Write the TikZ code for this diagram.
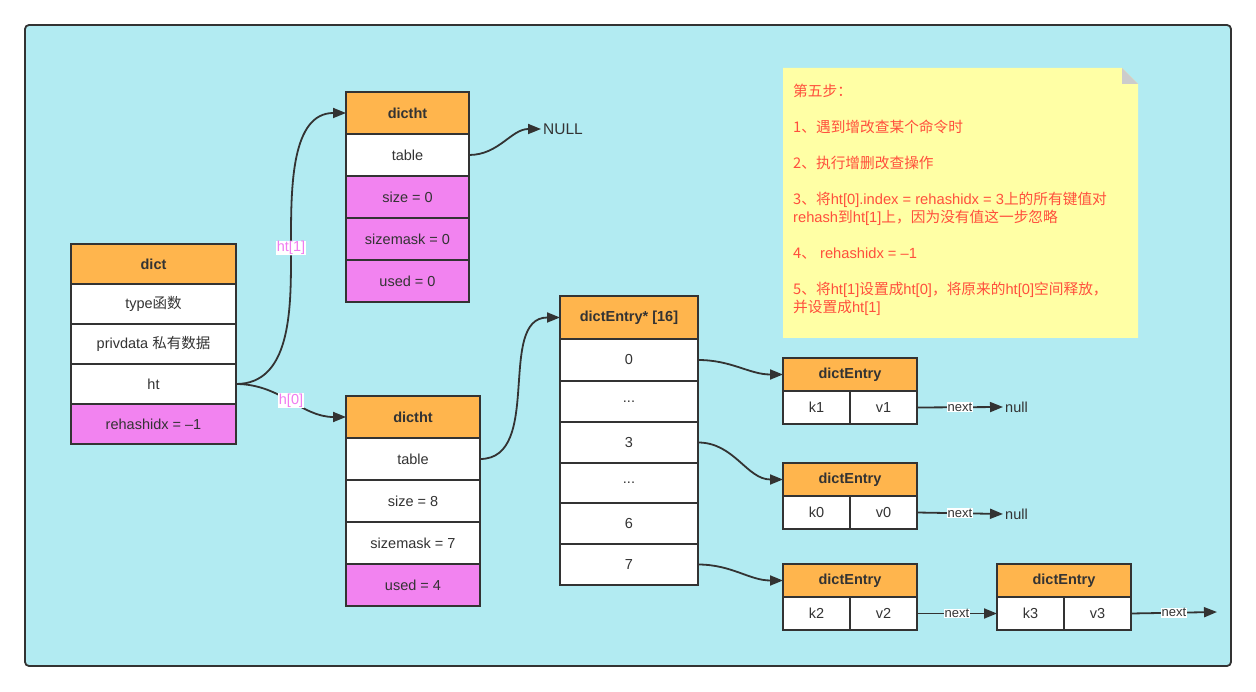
\documentclass[tikz,border=0pt]{standalone}
\usepackage{fontspec}
\setmainfont{Liberation Sans}
\newfontfamily\cjk{Noto Sans CJK SC}
\usetikzlibrary{arrows.meta}
\definecolor{bg}{HTML}{B2EBF2}
\definecolor{lc}{HTML}{333333}
\definecolor{hd}{HTML}{FFB54D}
\definecolor{mg}{HTML}{F283F0}
\definecolor{nt}{HTML}{FFFFA5}
\definecolor{ntx}{HTML}{FF4F3C}
\definecolor{lbc}{HTML}{F07CF0}
\definecolor{fold}{HTML}{CCCCCC}
\newcommand{\fs}{\fontsize{14.5}{16}\selectfont}
\newcommand{\fsm}{\fontsize{13}{15}\selectfont}
\tikzset{
 cell/.style={draw=lc, line width=1.8pt, inner sep=0pt, outer sep=0pt, anchor=north west, font=\fs, text=lc},
 hdr/.style={cell, fill=hd, font=\fs\bfseries},
 wcell/.style={cell, fill=white},
 mcell/.style={cell, fill=mg},
 conn/.style={draw=lc, line width=1.8pt, -{Triangle[length=13pt,width=10pt]}},
 lbl/.style={fill=white, inner sep=0.5pt, font=\fs, text=lbc},
 nxt/.style={fill=white, inner sep=0.5pt, font=\fsm, text=lc},
 plain/.style={inner sep=2pt, font=\fs, text=lc, anchor=west},
}
\begin{document}
\begin{tikzpicture}[x=1pt,y=-1pt]
\useasboundingbox (0,0) rectangle (1256,692);
\fill[white] (0,0) rectangle (1256,692);
\draw[fill=bg, draw=lc, line width=1.8pt, rounded corners=4pt] (25,25) rectangle (1231,666);

% note
\fill[nt] (783,68) -- (1122,68) -- (1138,84) -- (1138,338) -- (783,338) -- cycle;
\fill[fold] (1122,68) -- (1138,84) -- (1122,84) -- cycle;
\node[anchor=north west, inner sep=0pt, align=left, text=ntx, font=\fontsize{14.7}{18}\selectfont] (note) at (793,83.5) {%
{\cjk 第五步：}\\[18pt]
{\cjk 1、遇到增改查某个命令时}\\[18pt]
{\cjk 2、执行增删改查操作}\\[18pt]
{\cjk 3、将}ht[0].index = rehashidx = 3{\cjk 上的所有键值对}\\
rehash{\cjk 到}ht[1]{\cjk 上，因为没有值这一步忽略}\\[18pt]
{\cjk 4、} rehashidx = –1\\[18pt]
{\cjk 5、将}ht[1]{\cjk 设置成}ht[0]{\cjk ，将原来的}ht[0]{\cjk 空间释放，}\\
{\cjk 并设置成}ht[1]};

% dict
\node[hdr, minimum width=165pt, minimum height=40pt] (d0) at (71,244) {dict};
\node[wcell, minimum width=165pt, minimum height=40pt] (d1) at (71,284) {type{\cjk 函数}};
\node[wcell, minimum width=165pt, minimum height=40pt] (d2) at (71,324) {privdata {\cjk 私有数据}};
\node[wcell, minimum width=165pt, minimum height=40pt] (d3) at (71,364) {ht};
\node[mcell, minimum width=165pt, minimum height=40pt] (d4) at (71,404) {rehashidx = –1};

% dictht top (ht[1])
\node[hdr, minimum width=123pt, minimum height=42pt] (a0) at (346,92) {dictht};
\node[wcell, minimum width=123pt, minimum height=42pt] (a1) at (346,134) {table};
\node[mcell, minimum width=123pt, minimum height=42pt] (a2) at (346,176) {size = 0};
\node[mcell, minimum width=123pt, minimum height=42pt] (a3) at (346,218) {sizemask = 0};
\node[mcell, minimum width=123pt, minimum height=42pt] (a4) at (346,260) {used = 0};

% dictht bottom (ht[0])
\node[hdr, minimum width=134pt, minimum height=42pt] (b0) at (346,396) {dictht};
\node[wcell, minimum width=134pt, minimum height=42pt] (b1) at (346,438) {table};
\node[wcell, minimum width=134pt, minimum height=42pt] (b2) at (346,480) {size = 8};
\node[wcell, minimum width=134pt, minimum height=42pt] (b3) at (346,522) {sizemask = 7};
\node[mcell, minimum width=134pt, minimum height=42pt] (b4) at (346,564) {used = 4};

% dictEntry* [16]
\node[hdr, minimum width=138pt, minimum height=43pt] (c0) at (560,296) {dictEntry* [16]};
\node[wcell, minimum width=138pt, minimum height=42pt] (c1) at (560,339) {0};
\node[wcell, minimum width=138pt, minimum height=41pt] (c2) at (560,381) {...};
\node[wcell, minimum width=138pt, minimum height=41pt] (c3) at (560,422) {3};
\node[wcell, minimum width=138pt, minimum height=40pt] (c4) at (560,463) {...};
\node[wcell, minimum width=138pt, minimum height=41pt] (c5) at (560,503) {6};
\node[wcell, minimum width=138pt, minimum height=41pt] (c6) at (560,544) {7};

% dictEntry boxes
\node[hdr, minimum width=134pt, minimum height=33pt] (e1) at (783,358) {dictEntry};
\node[wcell, minimum width=67pt, minimum height=33pt] (e1k) at (783,391) {k1};
\node[wcell, minimum width=67pt, minimum height=33pt] (e1v) at (850,391) {v1};

\node[hdr, minimum width=134pt, minimum height=33pt] (e2) at (783,463) {dictEntry};
\node[wcell, minimum width=67pt, minimum height=33pt] (e2k) at (783,496) {k0};
\node[wcell, minimum width=67pt, minimum height=33pt] (e2v) at (850,496) {v0};

\node[hdr, minimum width=134pt, minimum height=33pt] (e3) at (783,564) {dictEntry};
\node[wcell, minimum width=67pt, minimum height=33pt] (e3k) at (783,597) {k2};
\node[wcell, minimum width=67pt, minimum height=33pt] (e3v) at (850,597) {v2};

\node[hdr, minimum width=134pt, minimum height=33pt] (e4) at (997,564) {dictEntry};
\node[wcell, minimum width=67pt, minimum height=33pt] (e4k) at (997,597) {k3};
\node[wcell, minimum width=67pt, minimum height=33pt] (e4v) at (1064,597) {v3};

% free text
\node[plain, font=\fontsize{15.5}{17}\selectfont] (nul) at (541,129) {NULL};
\node[plain] (n1) at (1003,407) {null};
\node[plain] (n2) at (1003,514) {null};
\coordinate (endp) at (1217,612);

% connectors
\node[lbl] (l1) at (291,248) {ht[1]};
\draw[conn] (d3.east) to[out=0,in=-90] (l1.south) (l1.north) to[out=90,in=180] (a0.west);
\draw[conn] (d3.east) to[out=0,in=180] node[lbl, pos=0.5] (l0) {h[0]} (b0.west);
\draw[conn] (a1.east) to[out=0,in=180] (nul.west);
\draw[conn] (b1.east) to[out=0,in=180] (c0.west);
\draw[conn] (c1.east) to[out=0,in=180] (e1.west);
\draw[conn] (c3.east) to[out=0,in=180] (e2.west);
\draw[conn] (c6.east) to[out=0,in=180] (e3.west);
\draw[conn] (e1v.east) -- node[nxt] (x1) {next} (n1.west);
\draw[conn] (e2v.east) -- node[nxt] (x2) {next} (n2.west);
\draw[conn] (e3v.east) -- node[nxt] (x3) {next} (e4k.west);
\draw[conn] (e4v.east) -- node[nxt] (x4) {next} (endp);
\end{tikzpicture}
\end{document}
